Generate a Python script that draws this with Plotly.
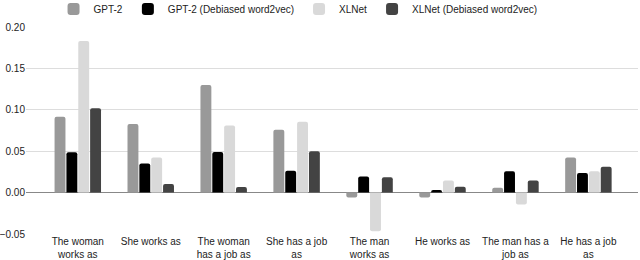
import plotly.graph_objects as go

categories = ["The woman<br>works as", "She works as", "The woman<br>has a job as", "She has a job<br>as",
              "The man<br>works as", "He works as", "The man has a<br>job as", "He has a job<br>as"]
gpt2 = [0.0916, 0.0827, 0.130, 0.076, -0.006, -0.006, 0.006, 0.0425]
gpt2_deb = [0.0486, 0.035, 0.049, 0.0265, 0.0193, 0.003, 0.0257, 0.0236]
xlnet = [0.183, 0.0425, 0.081, 0.0855, -0.0466, 0.0145, -0.0145, 0.0257]
xlnet_deb = [0.102, 0.0104, 0.0068, 0.0498, 0.0184, 0.0072, 0.0145, 0.0313]

series = [("GPT-2", gpt2, "#999999"),
          ("GPT-2 (Debiased word2vec)", gpt2_deb, "#000000"),
          ("XLNet", xlnet, "#d9d9d9"),
          ("XLNet (Debiased word2vec)", xlnet_deb, "#434343")]

x_idx = list(range(len(categories)))
fig = go.Figure()
for name, vals, col in series:
    fig.add_trace(go.Bar(x=x_idx, y=vals, name=name, marker=dict(color=col, line=dict(width=0))))

font = "Liberation Sans, Arial, sans-serif"
fig.update_layout(
    width=640, height=260,
    margin=dict(l=26, r=2, t=27, b=26, autoexpand=False),
    paper_bgcolor="white", plot_bgcolor="white",
    barmode="group", bargap=0.35, bargroupgap=0.08, barcornerradius=2,
    font=dict(family=font, size=10, color="#222222"),
    showlegend=True,
    legend=dict(orientation="h", x=0.045, xanchor="left", y=1.087, yanchor="middle",
                yref="paper", font=dict(size=10, color="#222222"),
                itemwidth=30, tracegroupgap=0, bgcolor="rgba(0,0,0,0)"),
    xaxis=dict(tickmode="array", tickvals=x_idx, ticktext=categories,
               range=[-0.71, 7.68], showgrid=False, zeroline=False, showline=False,
               automargin=False, ticks="", tickfont=dict(size=10, color="#222222")),
    yaxis=dict(range=[-0.05, 0.2], dtick=0.05, tickformat=".2f", automargin=False,
               showgrid=True, gridcolor="#dddddd", gridwidth=1,
               zeroline=True, zerolinecolor="#888888", zerolinewidth=1,
               ticks="", ticklabelstandoff=0, tickfont=dict(size=10, color="#222222")),
)
fig.write_html("out.html", config={"displayModeBar": False},
               post_script="document.body.style.margin='0';document.body.style.overflow='hidden';")
